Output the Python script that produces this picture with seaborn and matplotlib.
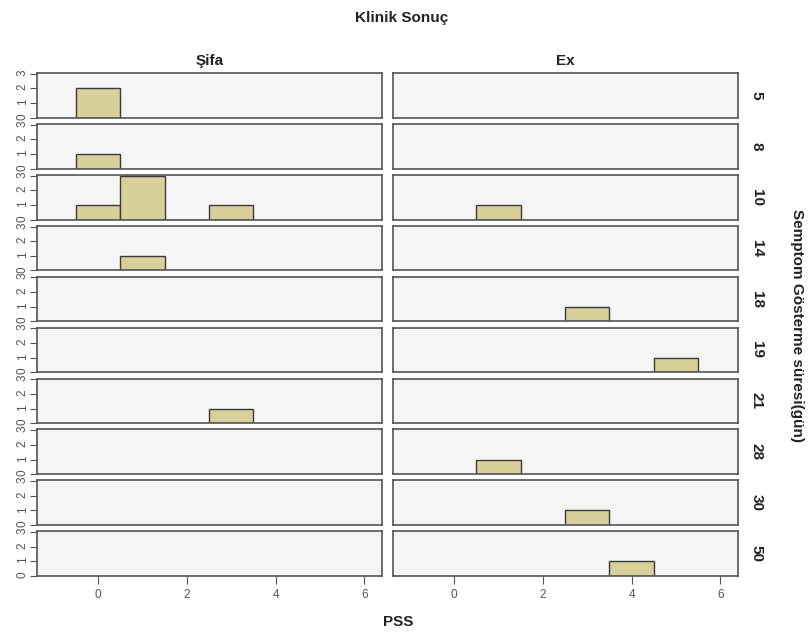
import pandas as pd
import matplotlib.pyplot as plt
import seaborn as sns

# === Data (one entry per patient) ===
symptom_days = [5, 5, 8, 10, 10, 10, 10, 10, 10, 14, 18, 19, 21, 28, 30, 50]
outcome = ["Şifa", "Şifa", "Şifa", "Şifa", "Şifa", "Şifa", "Şifa", "Şifa", "Ex",
           "Şifa", "Ex", "Ex", "Şifa", "Ex", "Ex", "Ex"]
pss = [0, 0, 0, 0, 1, 1, 1, 3, 1, 1, 3, 5, 3, 1, 3, 4]

day_order = [5, 8, 10, 14, 18, 19, 21, 28, 30, 50]
outcome_order = ["Şifa", "Ex"]
x_ticks = [0, 2, 4, 6]
y_ticks = [0, 1, 2, 3]

df = pd.DataFrame({"days": symptom_days, "outcome": outcome, "PSS": pss})

sns.set_style("ticks")
plt.rcParams['font.family'] = ['Liberation Sans', 'DejaVu Sans']

g = sns.FacetGrid(df, row="days", col="outcome", row_order=day_order,
                  col_order=outcome_order, sharex=True, sharey=True,
                  height=0.5, aspect=7, despine=False)
g.map_dataframe(sns.histplot, x="PSS", discrete=True, color="#d8d09a",
                edgecolor="#3a3a3a", linewidth=1, alpha=1)

g.figure.set_size_inches(8.08, 6.39)
g.figure.subplots_adjust(left=37/808, right=738/808, top=1-73/639,
                         bottom=1-576/639, wspace=0.032, hspace=0.14)
g.set_titles("")
g.set(xlim=(-1.38, 6.4), ylim=(0, 3.05), xticks=x_ticks, yticks=y_ticks)
g.set_axis_labels("", "")

n_rows = len(day_order)
for r, day in enumerate(day_order):
    for c, oc in enumerate(outcome_order):
        ax = g.axes[r, c]
        ax.set_facecolor("#f5f5f5")
        for s in ax.spines.values():
            s.set_color("#555555")
            s.set_linewidth(1.2)
        ax.tick_params(axis="y", labelsize=8.5, labelcolor="#555555", color="#555555",
                       length=5, pad=1, labelrotation=90, right=False)
        ax.tick_params(axis="x", labelsize=8.5, labelcolor="#555555", color="#555555",
                       length=6, top=False)
        if r < n_rows - 1:
            ax.tick_params(axis="x", bottom=False, labelbottom=False)
        if c == 1:
            ax.tick_params(axis="y", left=False, labelleft=False)
            ax.text(1.055, 0.5, str(day), transform=ax.transAxes, rotation=270,
                    ha="center", va="center", fontsize=11, fontweight="bold",
                    color="#222222")
        if r == 0:
            ax.set_title(oc, fontsize=11, fontweight="bold", color="#222222", pad=6)

fig = g.figure
fig.text(0.497, 1-18/639, "Klinik Sonuç", ha="center", va="center",
         fontsize=11, fontweight="bold", color="#222222")
fig.text(0.493, 1-622/639, "PSS", ha="center", va="center",
         fontsize=11, fontweight="bold", color="#222222")
fig.text(797/808, 0.49, "Semptom Gösterme süresi(gün)", ha="center", va="center",
         rotation=270, fontsize=11, fontweight="bold", color="#222222")

fig.savefig("out.png", dpi=100)
